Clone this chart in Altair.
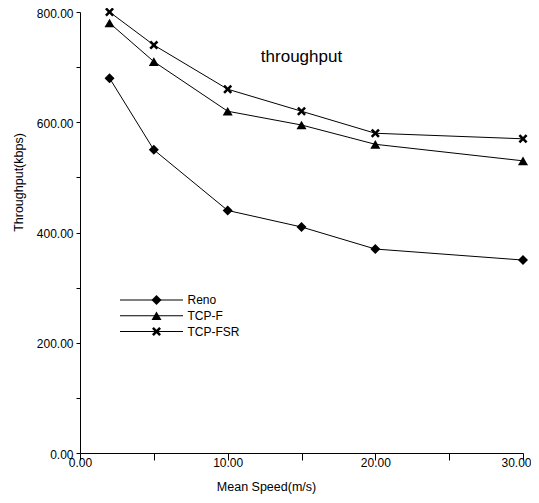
import altair as alt
import pandas as pd

# ---- data ----
speeds = [2, 5, 10, 15, 20, 30]
reno = [680, 550, 440, 410, 370, 350]
tcp_f = [780, 710, 620, 595, 560, 530]
tcp_fsr = [800, 740, 660, 620, 580, 570]
series_names = ["Reno", "TCP-F", "TCP-FSR"]
x_ticks = [0, 5, 10, 15, 20, 25, 30]
y_ticks = [0, 100, 200, 300, 400, 500, 600, 700, 800]

rows = []
for name, vals in zip(series_names, [reno, tcp_f, tcp_fsr]):
    for s, v in zip(speeds, vals):
        rows.append({"speed": s, "throughput": v, "series": name})
df = pd.DataFrame(rows)
legend_df = pd.DataFrame({"series": series_names})

FONT = "Liberation Sans"

# marker shapes
X_PATH = ("M-0.9,-0.54L-0.54,-0.9L0,-0.36L0.54,-0.9L0.9,-0.54L0.36,0"
          "L0.9,0.54L0.54,0.9L0,0.36L-0.54,0.9L-0.9,0.54L-0.36,0Z")
shape_scale = alt.Scale(domain=series_names, range=["diamond", "triangle-up", X_PATH])

x_enc = alt.X(
    "speed:Q",
    scale=alt.Scale(domain=[0, 30], nice=False, zero=False),
    axis=alt.Axis(
        values=x_ticks,
        labelExpr="datum.value % 10 === 0 ? format(datum.value, '.2f') : ''",
        labelAlign={"condition": {"test": "datum.value === 30", "value": "right"}, "value": "center"},
        labelOffset={"condition": {"test": "datum.value === 30", "value": 8}, "value": 0},
        title="Mean Speed(m/s)",
        tickSize=7,
        labelPadding=-2.5,
        titleX=186,
        titleY=33,
        titleBaseline="middle",
        titleAlign="center",
        labelFlush=False,
        labelOverlap=False,
    ),
)
y_enc = alt.Y(
    "throughput:Q",
    scale=alt.Scale(domain=[0, 800], nice=False),
    axis=alt.Axis(
        values=y_ticks,
        labelExpr="datum.value % 200 === 0 ? format(datum.value, '.2f') : ''",
        title="Throughput(kbps)",
        tickSize=4,
        labelPadding=3,
        labelOffset=1,
        titleX=-62,
        titleY=170,
        titleAngle=-90,
        titleBaseline="middle",
        titleAlign="center",
        labelFlush=False,
        labelOverlap=False,
    ),
)

base = alt.Chart(df).encode(x=x_enc, y=y_enc)
lines = base.mark_line(color="black", strokeWidth=1).encode(detail="series:N")
points = base.mark_point(filled=True, color="black", size=100, opacity=1).encode(
    shape=alt.Shape("series:N", scale=shape_scale, legend=None)
)
plot = alt.layer(lines, points)

# ---- legend (line + marker + label) ----
leg_y = alt.Y(
    "series:N",
    scale=alt.Scale(type="point", domain=series_names, range=[288, 319.5], padding=0),
    axis=None,
)
leg_base = alt.Chart(legend_df).encode(y=leg_y)
leg_rules = leg_base.mark_rule(color="black", strokeWidth=1).encode(
    x=alt.value(40), x2=alt.value(103)
)
leg_points = leg_base.mark_point(filled=True, color="black", size=100, opacity=1).encode(
    x=alt.value(76.5), shape=alt.Shape("series:N", scale=shape_scale, legend=None)
)
leg_text = leg_base.mark_text(
    align="left", baseline="middle", fontSize=12, font=FONT, color="black"
).encode(x=alt.value(107.5), text="series:N")
legend = alt.layer(leg_rules, leg_points, leg_text)

chart = (
    alt.layer(plot, legend)
    .resolve_scale(y="independent")
    .properties(
        width=443,
        height=441,
        autosize=alt.AutoSizeParams(type="none"),
        padding={"left": 72, "top": 4, "right": 8, "bottom": 42},
        title=alt.Title(
            "throughput",
            fontSize=17,
            font=FONT,
            fontWeight="normal",
            color="black",
            anchor="middle",
            frame="group",
            offset=0,
            baseline="alphabetic",
            dy=72,
        ),
    )
    .configure_view(stroke=None)
    .configure_axis(
        grid=False,
        domainColor="black",
        domainWidth=1,
        tickColor="black",
        tickWidth=1,
        labelColor="black",
        labelFont=FONT,
        labelFontSize=12,
        titleColor="black",
        titleFont=FONT,
        titleFontSize=12.5,
        titleFontWeight="normal",
    )
)

chart.save("out.html", embed_options={"renderer": "svg", "actions": False})
